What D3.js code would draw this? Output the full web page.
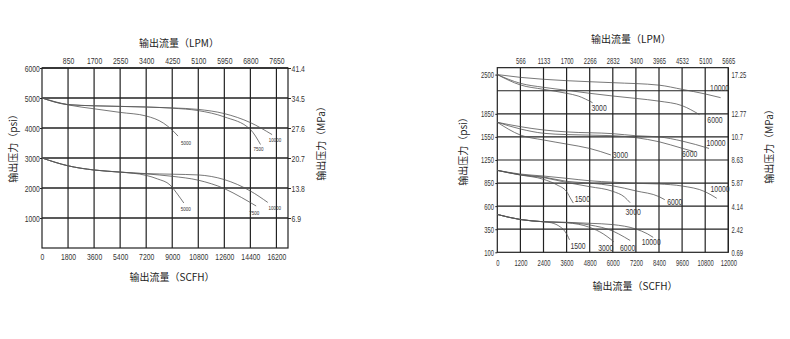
<!DOCTYPE html>
<html>
<head>
<meta charset="utf-8">
<script src="https://cdn.jsdelivr.net/npm/d3@7"></script>
<style>
  body { margin: 0; background: #fff; }
  svg { display: block; }
  text { -webkit-font-smoothing: antialiased; }
  .tick text { font-family: "Liberation Sans", Arial, sans-serif; fill: #333; }
  .tick line { stroke: #222; }
  .title { font-family: "Noto Sans CJK SC", sans-serif; font-size: 10px; fill: #222; }
  .clabel { font-family: "Liberation Sans", Arial, sans-serif; fill: #333; }
</style>
</head>
<body>
<svg id="chart" width="790" height="339"></svg>
<script>
// ---------- Graphique gauche : pression (psi) / débit (SCFH) ----------
const leftScfhTicks = [0, 1800, 3600, 5400, 7200, 9000, 10800, 12600, 14400, 16200];
const leftLpmTicks = [850, 1700, 2550, 3400, 4250, 5100, 5950, 6800, 7650];
const leftPsiTicks = [1000, 2000, 3000, 4000, 5000, 6000];
const leftMpaLabels = ["6.9", "13.8", "20.7", "27.6", "34.5", "41.4"];

// courbes du haut (départ 5000 psi)
const hi5000 = [[0, 5000], [1800, 4770], [3600, 4640], [5400, 4520], [7200, 4400], [8400, 4160], [9000, 3930], [9400, 3730]];
const hi7500 = [[0, 5000], [1800, 4780], [3600, 4740], [5400, 4720], [7200, 4700], [9000, 4660], [10800, 4580], [12600, 4370], [14400, 3950], [15100, 3450]];
const hi10000 = [[0, 5000], [1800, 4780], [3600, 4740], [5400, 4720], [7200, 4700], [9000, 4670], [10800, 4620], [12600, 4480], [14400, 4180], [15900, 3780]];
// courbes du bas (départ 3000 psi)
const lo5000 = [[0, 3000], [1800, 2740], [3600, 2600], [5400, 2530], [7200, 2420], [8000, 2300], [8850, 2100], [9400, 1770], [9800, 1500]];
const lo7500 = [[0, 3000], [1800, 2740], [3600, 2600], [5400, 2530], [7200, 2470], [9000, 2390], [10800, 2260], [12600, 1980], [13800, 1680], [14800, 1400]];
const lo10000 = [[0, 3000], [1800, 2740], [3600, 2600], [5400, 2530], [7200, 2480], [9000, 2460], [10800, 2435], [12600, 2280], [14400, 1900], [15600, 1520]];

const leftNames = ["5000", "7500", "10000", "5000", "7500", "10000"];

// ---------- Graphique droit ----------
const rightScfhTicks = [0, 1200, 2400, 3600, 4800, 6000, 7200, 8400, 9600, 10800, 12000];
const rightLpmTicks = [566, 1133, 1700, 2266, 2832, 3400, 3965, 4532, 5100, 5665];
const rightPsiTicks = [100, 350, 600, 850, 1250, 1550, 1850, 2500];
const rightMpaLabels = ["0.69", "2.42", "4.14", "5.87", "8.63", "10.7", "12.77", "17.25"];

const g1_10000 = [[0, 2500], [1200, 2454], [3600, 2399], [6000, 2366], [8400, 2325], [9600, 2255], [10800, 2179], [11600, 2118]];
const g1_6000 = [[0, 2500], [1200, 2355], [2400, 2289], [3600, 2240], [4800, 2190], [6000, 2145], [7200, 2105], [8400, 2060], [9600, 1985], [10500, 1840]];
const g1_3000 = [[0, 2500], [1200, 2328], [2400, 2256], [3600, 2190], [4200, 2145], [4950, 2034]];

const g2_10000 = [[0, 1740], [1200, 1683], [2400, 1640], [3600, 1615], [6000, 1592], [7200, 1565], [8400, 1550], [9600, 1496], [11000, 1400]];
const g2_6000 = [[0, 1740], [1200, 1653], [2400, 1597], [3600, 1580], [6000, 1566], [7200, 1540], [8400, 1487], [9600, 1402], [10200, 1360]];
const g2_3000 = [[0, 1740], [1200, 1574], [2400, 1510], [3600, 1457], [4800, 1400], [5900, 1315]];

const g3_10000 = [[0, 1070], [1200, 1006], [2400, 972], [3600, 932], [4800, 890], [6000, 865], [7200, 847], [8400, 840], [9600, 818], [10800, 756], [11400, 685]];
const g3_6000 = [[0, 1070], [1200, 995], [2400, 955], [3600, 880], [4800, 850], [6000, 820], [7200, 765], [8400, 703], [8700, 670]];
const g3_3000 = [[0, 1070], [1200, 990], [2400, 945], [3600, 860], [4800, 811], [6000, 760], [6600, 700], [6900, 637]];
const g3_1500 = [[0, 1070], [1200, 990], [2400, 915], [3100, 830], [3600, 757], [3850, 667], [3950, 633]];

const g4_10000 = [[0, 510], [1200, 455], [2400, 431], [3600, 425], [4800, 414], [6000, 400], [7200, 352], [7800, 300], [8100, 262]];
const g4_6000 = [[0, 510], [1200, 455], [2400, 431], [3600, 422], [4800, 396], [6000, 330], [6600, 265], [6900, 228]];
const g4_3000 = [[0, 510], [1200, 455], [2400, 431], [3600, 420], [4800, 370], [5500, 300], [5900, 240], [6050, 215]];
const g4_1500 = [[0, 510], [1200, 455], [2400, 431], [2800, 420], [3200, 385], [3500, 330], [3650, 280], [3750, 235]];

const rightNames = ["10000", "6000", "3000", "10000", "6000", "3000", "10000", "6000", "3000", "1500", "10000", "6000", "3000", "1500"];

// ---------- mise en page ----------
const svg = d3.select("#chart");
const width = 790;
const height = 339;
svg.attr("viewBox", `0 0 ${width} ${height}`);
svg.append("rect").attr("width", width).attr("height", height).attr("fill", "#fff");

const gridColor = "#222";
const curveColor = "#555";
const fmt = d3.format("d");

// texte étroit : on compresse horizontalement
function cleanAxis(sel, size, sx) {
  sel.select(".domain").remove();
  sel.selectAll(".tick text").attr("font-size", size).attr("transform", `scale(${sx},1)`);
}

function drawCurves(g, x, y, series, names, offsets, fontSize, sx) {
  const line = d3.line()
    .x((d) => x(d[0]))
    .y((d) => y(d[1]))
    .curve(d3.curveMonotoneX);

  g.selectAll("path.curve")
    .data(series)
    .enter()
    .append("path")
    .attr("class", "curve")
    .attr("fill", "none")
    .attr("stroke", curveColor)
    .attr("stroke-width", 0.8)
    .attr("d", line);

  g.selectAll("text.clabel")
    .data(series)
    .enter()
    .append("text")
    .attr("class", "clabel")
    .attr("font-size", fontSize)
    .attr("text-anchor", "middle")
    .attr("dominant-baseline", "central")
    .attr("transform", (d, i) => {
      const px = x(d[d.length - 1][0]) + offsets[i][0];
      const py = y(d[d.length - 1][1]) + offsets[i][1];
      return `translate(${px},${py}) scale(${sx},1)`;
    })
    .text((d, i) => names[i]);
}

function title(txt, x, y, rotate) {
  const t = svg.append("text")
    .attr("class", "title")
    .attr("text-anchor", "middle")
    .attr("dominant-baseline", "central")
    .text(txt);
  if (rotate) t.attr("transform", `translate(${x},${y}) rotate(-90)`);
  else t.attr("x", x).attr("y", y);
}

// ===== panneau gauche =====
{
  const L = { left: 42, right: 288, top: 68, bottom: 248 };
  const x = d3.scaleLinear().domain([0, 17000]).range([L.left, L.right]);
  const xLpm = d3.scaleLinear().domain([0, 17000 * 850 / 1800]).range([L.left, L.right]);
  const y = d3.scaleLinear().domain([0, 6000]).range([L.bottom, L.top]);
  const g = svg.append("g");

  g.selectAll("line.v").data(leftScfhTicks.slice(1)).enter().append("line")
    .attr("x1", (d) => x(d)).attr("x2", (d) => x(d))
    .attr("y1", L.top).attr("y2", L.bottom)
    .attr("stroke", gridColor).attr("stroke-width", 1.2);
  g.selectAll("line.h").data(leftPsiTicks).enter().append("line")
    .attr("x1", L.left).attr("x2", L.right)
    .attr("y1", (d) => y(d)).attr("y2", (d) => y(d))
    .attr("stroke", gridColor).attr("stroke-width", 1.3);
  g.append("rect")
    .attr("x", L.left).attr("y", L.top)
    .attr("width", L.right - L.left).attr("height", L.bottom - L.top)
    .attr("fill", "none").attr("stroke", gridColor).attr("stroke-width", 1.2);

  g.append("g").attr("transform", `translate(0,${L.bottom})`)
    .call(d3.axisBottom(x).tickValues(leftScfhTicks).tickFormat(fmt).tickSize(0).tickPadding(5))
    .call((s) => cleanAxis(s, 9.5, 0.72));
  g.append("g").attr("transform", `translate(0,${L.top})`)
    .call(d3.axisTop(xLpm).tickValues(leftLpmTicks).tickFormat(fmt).tickSize(0).tickPadding(4))
    .call((s) => cleanAxis(s, 9.5, 0.72));
  g.append("g").attr("transform", `translate(${L.left},0)`)
    .call(d3.axisLeft(y).tickValues(leftPsiTicks).tickFormat(fmt).tickSize(2).tickPadding(1))
    .call((s) => cleanAxis(s, 9.5, 0.72));
  g.append("g").attr("transform", `translate(${L.right},0)`)
    .call(d3.axisRight(y).tickValues(leftPsiTicks).tickSize(3).tickPadding(2)
      .tickFormat((d, i) => leftMpaLabels[i]))
    .call((s) => cleanAxis(s, 9.5, 0.72));

  const series = [hi5000, hi7500, hi10000, lo5000, lo7500, lo10000];
  const offsets = [[8, 7], [-2, 5], [3, 5.5], [2, 6.5], [-2, 7.5], [7, 6.5]];
  drawCurves(g, x, y, series, leftNames, offsets, 5, 0.9);

  title("输出流量（LPM）", 179, 42, false);
  title("输出流量（SCFH）", 172, 276, false);
  title("输出压力（psi）", 12, 146, true);
  title("输出压力（MPa）", 320, 141, true);
}

// ===== panneau droit =====
{
  const rowH = 23.08;
  const R = { left: 497.3, right: 728.3, bottom: 252.3 };
  R.top = R.bottom - 8 * rowH;
  const tickRows = [0, 1, 2, 3, 4, 5, 6, 7.7];
  const x = d3.scaleLinear().domain([0, 12000]).range([R.left, R.right]);
  const xLpm = d3.scaleLinear().domain([0, 5665]).range([R.left, R.right]);
  const y = d3.scaleLinear().domain(rightPsiTicks).range(tickRows.map((r) => R.bottom - r * rowH));
  const g = svg.append("g");

  g.selectAll("line.v").data(rightScfhTicks.slice(1)).enter().append("line")
    .attr("x1", (d) => x(d)).attr("x2", (d) => x(d))
    .attr("y1", R.top).attr("y2", R.bottom)
    .attr("stroke", gridColor).attr("stroke-width", 1.2);
  g.selectAll("line.h").data(d3.range(1, 8)).enter().append("line")
    .attr("x1", R.left).attr("x2", R.right)
    .attr("y1", (r) => R.bottom - r * rowH).attr("y2", (r) => R.bottom - r * rowH)
    .attr("stroke", gridColor).attr("stroke-width", 1.2);
  g.append("rect")
    .attr("x", R.left).attr("y", R.top)
    .attr("width", R.right - R.left).attr("height", R.bottom - R.top)
    .attr("fill", "none").attr("stroke", gridColor).attr("stroke-width", 1.2);

  g.append("g").attr("transform", `translate(0,${R.bottom})`)
    .call(d3.axisBottom(x).tickValues(rightScfhTicks).tickFormat(fmt).tickSize(0).tickPadding(7))
    .call((s) => cleanAxis(s, 9, 0.65));
  g.append("g").attr("transform", `translate(0,${R.top})`)
    .call(d3.axisTop(xLpm).tickValues(rightLpmTicks).tickFormat(fmt).tickSize(0).tickPadding(4))
    .call((s) => cleanAxis(s, 9, 0.65));
  g.append("g").attr("transform", `translate(${R.left},0)`)
    .call(d3.axisLeft(y).tickValues(rightPsiTicks).tickFormat(fmt).tickSize(2).tickPadding(3))
    .call((s) => cleanAxis(s, 9, 0.65));
  g.append("g").attr("transform", `translate(${R.right},0)`)
    .call(d3.axisRight(y).tickValues(rightPsiTicks).tickSize(0).tickPadding(5)
      .tickFormat((d, i) => rightMpaLabels[i]))
    .call((s) => cleanAxis(s, 9, 0.65));

  const series = [g1_10000, g1_6000, g1_3000, g2_10000, g2_6000, g2_3000,
    g3_10000, g3_6000, g3_3000, g3_1500, g4_10000, g4_6000, g4_3000, g4_1500];
  const offsets = [[-1, -9.7], [15.5, 5.5], [6.5, 5.5], [7, -5], [-4, 3], [9.5, 0],
    [3.3, -9.3], [10, 2.2], [3, 9], [9, -3.7], [-2, 5], [-2.5, 7.5], [-8, 6], [8.5, 6.5]];
  drawCurves(g, x, y, series, rightNames, offsets, 9.5, 0.72);

  title("输出流量（LPM）", 631, 38.5, false);
  title("输出流量（SCFH）", 635, 285, false);
  title("输出压力（psi）", 462, 149, true);
  title("输出压力（MPa）", 768, 144, true);
}
</script>
</body>
</html>
